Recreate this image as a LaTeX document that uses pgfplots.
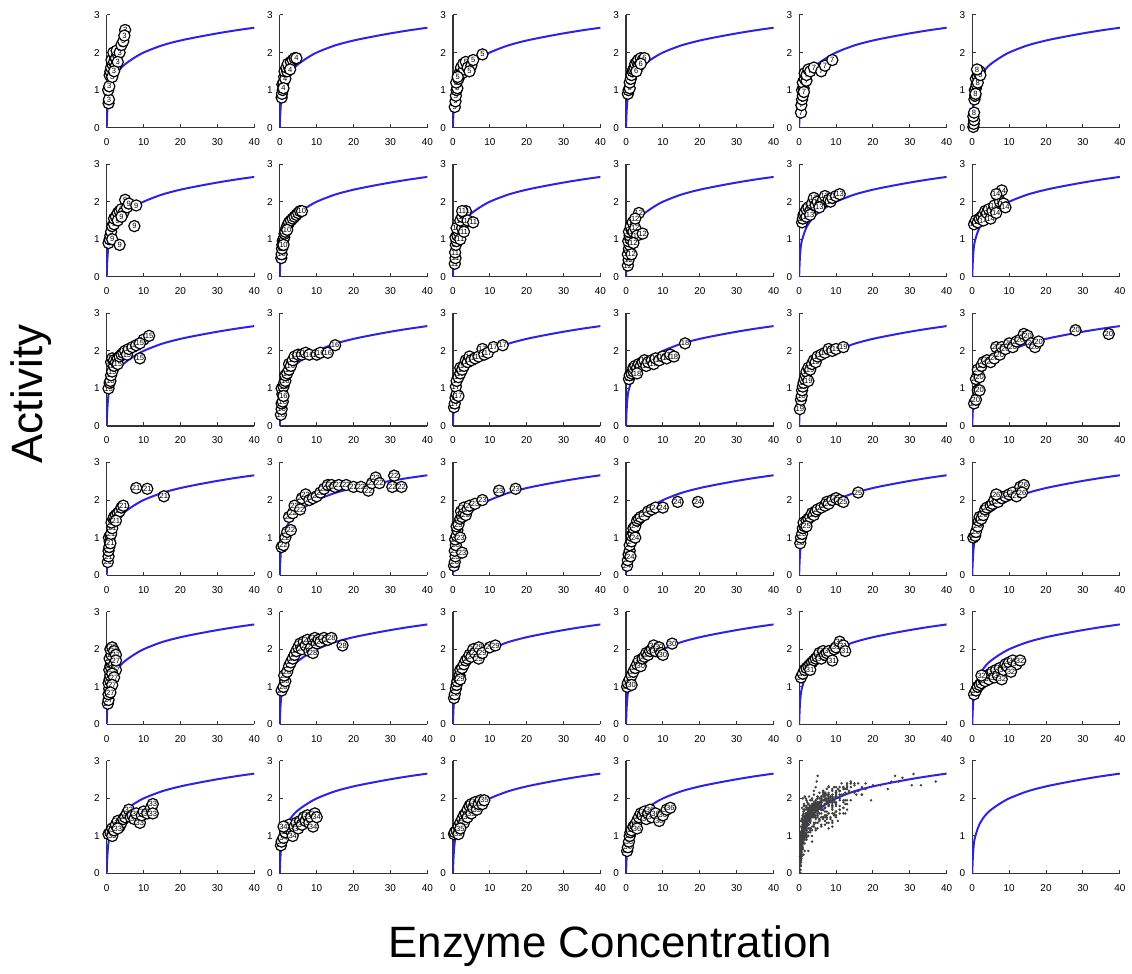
\documentclass[border=0pt]{standalone}
\usepackage{fontspec}
\setmainfont{Liberation Sans}
\usepackage{pgfplots}
\usepackage{pgfplotstable}
\pgfplotsset{compat=1.18}

\definecolor{fitblue}{RGB}{45,35,230}

% fitted curve, shared by all panels
\pgfplotstableread[row sep=\\]{x y\\ 0 0\\ 0.15 0.4\\ 0.35 0.7\\ 0.6 0.9\\ 1 1.05\\ 1.5 1.2\\ 2 1.32\\ 3 1.48\\ 4 1.6\\ 5 1.69\\ 7 1.83\\ 10 2.0\\ 15 2.19\\ 20 2.32\\ 25 2.42\\ 30 2.51\\ 35 2.59\\ 40 2.66\\}\fitcurve

% one table per sample
\pgfplotstableread[row sep=\\]{x y\\ 0.5 0.65\\ 0.6 0.75\\ 0.4 1.0\\ 0.7 1.1\\ 0.8 1.4\\ 1.0 1.5\\ 1.2 1.6\\ 1.5 1.7\\ 1.3 1.8\\ 2 1.75\\ 2.2 1.9\\ 1.8 2.0\\ 2.5 1.85\\ 3 1.95\\ 2.7 2.05\\ 3.5 2.0\\ 2.5 1.65\\ 3 1.75\\ 4 2.2\\ 4.5 2.3\\ 5 2.6\\ 4.8 2.45\\ 1.5 1.35\\ 2 1.5\\}\datIII
\pgfplotstableread[row sep=\\]{x y\\ 0.5 0.8\\ 0.6 0.9\\ 0.8 1.0\\ 0.7 1.15\\ 1 1.2\\ 1.2 1.35\\ 1.5 1.3\\ 1.3 1.5\\ 2 1.5\\ 1.8 1.6\\ 2.5 1.6\\ 2.2 1.7\\ 3 1.75\\ 3.5 1.8\\ 4 1.85\\ 4.5 1.85\\ 2.8 1.55\\ 1 1.05\\}\datIV
\pgfplotstableread[row sep=\\]{x y\\ 0.5 0.55\\ 0.7 0.7\\ 0.8 0.85\\ 1 1.0\\ 1.2 1.05\\ 0.9 1.2\\ 1.5 1.3\\ 1.8 1.4\\ 2 1.5\\ 2.2 1.6\\ 2.5 1.45\\ 3 1.55\\ 2.8 1.7\\ 3.5 1.75\\ 4 1.6\\ 5 1.65\\ 5.5 1.8\\ 4.5 1.5\\ 8 1.95\\ 1.3 1.35\\}\datV
\pgfplotstableread[row sep=\\]{x y\\ 0.5 0.9\\ 0.7 1.0\\ 1 1.05\\ 1 1.2\\ 1.3 1.3\\ 1.5 1.4\\ 1.8 1.5\\ 2 1.55\\ 2.3 1.6\\ 2.5 1.7\\ 3 1.75\\ 3.3 1.8\\ 4 1.85\\ 4.5 1.8\\ 5 1.85\\ 3.5 1.65\\ 2.8 1.5\\ 4 1.7\\}\datVI
\pgfplotstableread[row sep=\\]{x y\\ 0.5 0.4\\ 0.6 0.6\\ 0.8 0.75\\ 1 0.85\\ 0.8 1.0\\ 1.2 1.05\\ 1 1.2\\ 1.5 1.3\\ 2 1.25\\ 1.5 1.45\\ 2 1.4\\ 2.5 1.55\\ 3 1.5\\ 4 1.6\\ 6 1.5\\ 7 1.65\\ 9 1.8\\ 1.3 0.95\\}\datVII
\pgfplotstableread[row sep=\\]{x y\\ 0.3 0.02\\ 0.4 0.1\\ 0.5 0.2\\ 0.3 0.3\\ 0.5 0.4\\ 0.6 0.75\\ 0.8 0.85\\ 0.7 1.0\\ 1 1.05\\ 1.2 1.15\\ 1 1.3\\ 1.5 1.35\\ 1.8 1.45\\ 2 1.5\\ 1.5 1.2\\ 0.9 0.9\\ 2.2 1.4\\ 1.3 1.55\\}\datVIII
\pgfplotstableread[row sep=\\]{x y\\ 0.5 0.9\\ 0.8 1.0\\ 1 1.1\\ 1.2 1.2\\ 1.5 1.0\\ 1.5 1.35\\ 2 1.4\\ 2 1.55\\ 2.5 1.6\\ 3 1.7\\ 3 1.5\\ 3.5 1.75\\ 4 1.8\\ 4.5 1.7\\ 5 2.05\\ 5.5 1.85\\ 6 1.95\\ 8 1.9\\ 7.5 1.35\\ 3.5 0.85\\ 4 1.6\\}\datIX
\pgfplotstableread[row sep=\\]{x y\\ 0.4 0.5\\ 0.5 0.6\\ 0.6 0.75\\ 0.7 0.85\\ 0.8 0.95\\ 1 1.0\\ 1.2 1.05\\ 1.3 1.15\\ 1.5 1.2\\ 1.8 1.3\\ 2 1.35\\ 2.3 1.4\\ 2.5 1.45\\ 3 1.5\\ 3.5 1.55\\ 4 1.6\\ 4.5 1.65\\ 5 1.7\\ 5.5 1.75\\ 6 1.75\\ 1 0.85\\ 2 1.25\\}\datX
\pgfplotstableread[row sep=\\]{x y\\ 0.5 0.35\\ 0.7 0.5\\ 0.6 0.65\\ 0.8 0.85\\ 1 0.95\\ 0.7 1.05\\ 1.2 1.1\\ 1.5 1.2\\ 1 1.3\\ 2 1.0\\ 2.5 1.3\\ 3 1.45\\ 2 1.5\\ 2.5 1.6\\ 3 1.7\\ 3.5 1.75\\ 2.5 1.75\\ 4 1.5\\ 5.5 1.45\\ 3 1.2\\}\datXI
\pgfplotstableread[row sep=\\]{x y\\ 0.5 0.3\\ 0.7 0.45\\ 0.5 0.6\\ 0.8 0.75\\ 1 0.85\\ 0.6 0.95\\ 1.2 1.0\\ 1 1.1\\ 0.8 1.2\\ 1.5 1.25\\ 1.3 1.35\\ 2 1.2\\ 1.8 1.45\\ 2.5 1.3\\ 3 1.1\\ 2 0.9\\ 1.5 0.6\\ 3.5 1.7\\ 2.5 1.55\\ 4.5 1.15\\}\datXII
\pgfplotstableread[row sep=\\]{x y\\ 0.8 1.45\\ 1 1.55\\ 1.2 1.65\\ 1.5 1.7\\ 2 1.6\\ 2 1.8\\ 2.5 1.85\\ 3 1.75\\ 3.5 1.95\\ 4 2.1\\ 4.5 1.9\\ 5 2.0\\ 6 1.95\\ 6.5 2.05\\ 7 2.15\\ 8 2.05\\ 8.5 2.0\\ 9 2.1\\ 10 2.15\\ 11 2.2\\ 5.5 1.85\\ 3 1.65\\}\datXIII
\pgfplotstableread[row sep=\\]{x y\\ 0.5 1.4\\ 1 1.5\\ 1.5 1.45\\ 2 1.55\\ 2.5 1.6\\ 3 1.65\\ 3 1.5\\ 3.5 1.75\\ 4 1.7\\ 4.5 1.8\\ 5 1.55\\ 5.5 1.75\\ 6 1.9\\ 6.5 1.7\\ 7 2.15\\ 7.5 2.0\\ 8 2.3\\ 8.5 1.95\\ 9 1.85\\ 6.5 2.2\\}\datXIV
\pgfplotstableread[row sep=\\]{x y\\ 0.5 1.0\\ 0.8 1.15\\ 1 1.2\\ 1.2 1.35\\ 1.5 1.45\\ 1.2 1.7\\ 1.5 1.8\\ 2 1.6\\ 2 1.75\\ 2.5 1.7\\ 3 1.8\\ 3 1.65\\ 3.5 1.85\\ 4 1.9\\ 4.5 1.95\\ 5 2.0\\ 5.5 1.9\\ 6 2.05\\ 7 2.1\\ 8 2.15\\ 9 1.8\\ 10 2.3\\ 11.5 2.4\\ 9 2.2\\}\datXV
\pgfplotstableread[row sep=\\]{x y\\ 0.3 0.3\\ 0.5 0.45\\ 0.5 0.6\\ 0.8 0.65\\ 0.7 0.85\\ 0.5 1.0\\ 1 1.05\\ 1.2 1.15\\ 1.5 1.2\\ 1.5 1.35\\ 2 1.4\\ 2.5 1.5\\ 2.5 1.65\\ 3 1.6\\ 3.5 1.75\\ 4 1.85\\ 5 1.9\\ 6 1.9\\ 7 1.95\\ 8 1.9\\ 10 1.9\\ 11 1.95\\ 13 1.95\\ 15 2.15\\ 1 0.8\\}\datXVI
\pgfplotstableread[row sep=\\]{x y\\ 0.3 0.5\\ 0.5 0.6\\ 0.7 0.75\\ 1 0.85\\ 0.8 1.05\\ 1 1.2\\ 1.5 1.3\\ 2 1.4\\ 2 1.55\\ 2.5 1.5\\ 3 1.6\\ 3.5 1.75\\ 4 1.7\\ 4.5 1.85\\ 5 1.75\\ 6 1.8\\ 7 1.85\\ 8 2.05\\ 8.5 1.9\\ 9.5 1.95\\ 11 2.1\\ 13.5 2.15\\ 1.5 0.8\\}\datXVII
\pgfplotstableread[row sep=\\]{x y\\ 0.8 1.25\\ 1 1.35\\ 1.5 1.4\\ 2 1.45\\ 2 1.55\\ 2.5 1.6\\ 3 1.55\\ 3.5 1.65\\ 4 1.6\\ 4.5 1.7\\ 5 1.75\\ 5.5 1.6\\ 6 1.7\\ 7 1.75\\ 7.5 1.65\\ 8 1.8\\ 9 1.75\\ 10 1.85\\ 11 1.8\\ 12 1.9\\ 13 1.85\\ 16 2.2\\ 3 1.4\\}\datXVIII
\pgfplotstableread[row sep=\\]{x y\\ 0.2 0.45\\ 0.5 0.7\\ 0.7 0.8\\ 0.8 0.95\\ 1 1.05\\ 1.2 1.15\\ 1.5 1.25\\ 1.8 1.35\\ 2 1.45\\ 2.5 1.55\\ 3 1.5\\ 3.5 1.65\\ 4 1.75\\ 4.5 1.7\\ 5 1.85\\ 6 1.9\\ 7 1.95\\ 8 2.05\\ 9 2.0\\ 10 2.05\\ 12 2.1\\ 2.5 1.2\\}\datXIX
\pgfplotstableread[row sep=\\]{x y\\ 0.5 0.6\\ 1 0.7\\ 1.5 0.95\\ 2 0.95\\ 1 1.25\\ 2 1.3\\ 1.5 1.5\\ 2.5 1.6\\ 3 1.7\\ 4 1.75\\ 5 1.7\\ 6 1.8\\ 6.5 2.1\\ 7.5 1.9\\ 8 2.1\\ 9 2.05\\ 10 2.2\\ 11 2.1\\ 12 2.25\\ 13 2.3\\ 14 2.45\\ 15 2.4\\ 16 2.2\\ 17 2.1\\ 18 2.25\\ 28 2.55\\ 37 2.45\\}\datXX
\pgfplotstableread[row sep=\\]{x y\\ 0.3 0.35\\ 0.5 0.5\\ 0.5 0.65\\ 0.7 0.75\\ 0.8 0.9\\ 0.6 1.0\\ 1 1.05\\ 1 0.85\\ 1.2 1.1\\ 1.5 1.25\\ 1.3 1.4\\ 1.8 1.5\\ 2 1.55\\ 2.5 1.6\\ 3 1.65\\ 3.5 1.7\\ 4 1.8\\ 4.5 1.85\\ 2.5 1.45\\ 8 2.32\\ 11 2.3\\ 15.5 2.1\\}\datXXI
\pgfplotstableread[row sep=\\]{x y\\ 0.5 0.75\\ 1 0.8\\ 1.5 1.0\\ 2 1.15\\ 3 1.2\\ 2.5 1.55\\ 3.5 1.65\\ 4 1.85\\ 5.5 1.75\\ 6 2.05\\ 7 2.15\\ 8 2.0\\ 9 2.05\\ 10 2.1\\ 11 2.2\\ 12 2.3\\ 13 2.4\\ 14 2.4\\ 15 2.35\\ 16 2.4\\ 18 2.4\\ 20 2.35\\ 22 2.35\\ 24 2.25\\ 25 2.45\\ 26 2.6\\ 27 2.45\\ 31 2.65\\ 30.5 2.35\\ 33 2.35\\}\datXXII
\pgfplotstableread[row sep=\\]{x y\\ 0.3 0.25\\ 0.5 0.35\\ 0.7 0.5\\ 0.5 0.65\\ 0.8 0.8\\ 0.6 0.95\\ 1 1.05\\ 1.2 1.2\\ 1 1.3\\ 1.5 1.35\\ 2 1.5\\ 2.5 1.55\\ 2.2 1.7\\ 3 1.65\\ 3.5 1.6\\ 3 1.8\\ 4 1.75\\ 4.5 1.85\\ 6 1.9\\ 8 2.0\\ 12.5 2.25\\ 17 2.3\\ 2.5 0.6\\ 2 1.0\\}\datXXIII
\pgfplotstableread[row sep=\\]{x y\\ 0.3 0.25\\ 0.5 0.4\\ 0.7 0.55\\ 1 0.65\\ 1 0.8\\ 1.5 0.9\\ 1.5 1.05\\ 2 1.1\\ 2 1.25\\ 2.5 1.3\\ 3 1.45\\ 3.5 1.5\\ 4 1.55\\ 5 1.6\\ 6 1.7\\ 7 1.75\\ 8 1.8\\ 10 1.8\\ 14 1.95\\ 19.5 1.95\\ 2.5 1.0\\ 1.2 0.5\\}\datXXIV
\pgfplotstableread[row sep=\\]{x y\\ 0.3 0.85\\ 0.5 1.0\\ 0.8 1.1\\ 1 1.25\\ 1.5 1.3\\ 1.2 1.4\\ 2 1.45\\ 2.5 1.5\\ 3 1.55\\ 3.5 1.65\\ 4 1.6\\ 4.5 1.7\\ 5 1.75\\ 6 1.8\\ 7 1.85\\ 7.5 1.95\\ 8 1.9\\ 9 2.0\\ 10 2.05\\ 11 2.0\\ 12 1.95\\ 16 2.2\\ 2 1.3\\}\datXXV
\pgfplotstableread[row sep=\\]{x y\\ 0.3 1.0\\ 0.8 1.05\\ 1 1.15\\ 1.5 1.3\\ 1.8 1.45\\ 2 1.55\\ 2.5 1.5\\ 3 1.6\\ 3.5 1.75\\ 4 1.8\\ 5 1.85\\ 5.5 1.9\\ 6 2.0\\ 7 1.95\\ 7.5 2.1\\ 8 2.05\\ 9 2.1\\ 10 2.15\\ 11 2.2\\ 12 2.1\\ 13 2.35\\ 14 2.4\\ 13.5 2.2\\ 6.5 2.15\\}\datXXVI
\pgfplotstableread[row sep=\\]{x y\\ 0.3 0.55\\ 0.5 0.65\\ 0.5 0.8\\ 0.7 0.95\\ 0.5 1.1\\ 0.8 1.2\\ 1 1.3\\ 0.7 1.45\\ 1 1.55\\ 1.2 1.65\\ 0.8 1.75\\ 1.3 1.85\\ 1 2.0\\ 1.5 2.05\\ 2 1.95\\ 2.5 1.85\\ 2 1.6\\ 2.5 1.45\\ 1.5 1.35\\ 2 1.25\\ 1.5 1.05\\ 1 0.85\\ 2.5 1.7\\}\datXXVII
\pgfplotstableread[row sep=\\]{x y\\ 0.5 0.9\\ 1 1.0\\ 1.5 1.15\\ 1.2 1.3\\ 2 1.4\\ 2.5 1.55\\ 3 1.65\\ 3.5 1.75\\ 4 1.85\\ 4.5 1.95\\ 5 2.05\\ 5.5 2.15\\ 6 2.0\\ 6.5 2.2\\ 7 2.1\\ 7.5 2.25\\ 8 1.95\\ 8.5 2.05\\ 9 2.25\\ 9.5 2.3\\ 10 2.15\\ 10.5 2.25\\ 11 2.2\\ 12 2.3\\ 13 2.25\\ 14 2.3\\ 17 2.1\\ 9 1.9\\}\datXXVIII
\pgfplotstableread[row sep=\\]{x y\\ 0.3 0.7\\ 0.5 0.8\\ 0.8 0.95\\ 1 1.05\\ 1.2 1.15\\ 1.5 1.25\\ 1.8 1.3\\ 2 1.45\\ 2.5 1.5\\ 3 1.6\\ 3.5 1.7\\ 4 1.75\\ 4.5 1.85\\ 5 1.8\\ 5.5 2.0\\ 6 1.9\\ 7 2.05\\ 7 1.75\\ 8 1.9\\ 10 2.05\\ 11.5 2.1\\ 2 1.2\\}\datXXIX
\pgfplotstableread[row sep=\\]{x y\\ 0.3 1.0\\ 0.5 1.1\\ 1 1.2\\ 1.5 1.3\\ 2 1.4\\ 2.5 1.5\\ 3 1.6\\ 3.5 1.7\\ 4 1.55\\ 4.5 1.75\\ 5 1.8\\ 5.5 1.9\\ 6 1.85\\ 6.5 1.95\\ 7 2.0\\ 7.5 2.1\\ 8 1.95\\ 9 2.05\\ 9.5 1.9\\ 10 1.85\\ 12.5 2.15\\ 1.5 1.05\\}\datXXX
\pgfplotstableread[row sep=\\]{x y\\ 0.5 1.25\\ 1 1.35\\ 1.5 1.45\\ 2 1.5\\ 2.5 1.55\\ 3 1.6\\ 3.5 1.65\\ 4 1.7\\ 4.5 1.75\\ 5 1.8\\ 5.5 1.9\\ 6 1.75\\ 6.5 1.95\\ 7 1.85\\ 7.5 1.9\\ 8 1.95\\ 9 1.7\\ 9.5 2.0\\ 10 2.05\\ 11 2.2\\ 12 2.1\\ 12.5 1.95\\ 3 1.45\\}\datXXXI
\pgfplotstableread[row sep=\\]{x y\\ 0.5 0.8\\ 1 0.9\\ 1.5 1.0\\ 2 1.05\\ 2.5 1.1\\ 3 1.2\\ 3.5 1.15\\ 4 1.3\\ 4.5 1.2\\ 5 1.35\\ 5.5 1.4\\ 6 1.25\\ 6.5 1.45\\ 7 1.3\\ 7.5 1.5\\ 8 1.2\\ 8.5 1.45\\ 9 1.6\\ 9.5 1.55\\ 10 1.65\\ 11 1.7\\ 12 1.6\\ 13 1.7\\ 10.5 1.4\\ 2.5 1.3\\}\datXXXII
\pgfplotstableread[row sep=\\]{x y\\ 0.5 1.05\\ 1 1.1\\ 1.5 1.0\\ 1.5 1.2\\ 2 1.15\\ 2.5 1.3\\ 3 1.4\\ 3.5 1.25\\ 4 1.35\\ 4.5 1.45\\ 5 1.5\\ 5.5 1.6\\ 6 1.7\\ 6.5 1.5\\ 7 1.55\\ 7.5 1.45\\ 8 1.6\\ 9 1.35\\ 9.5 1.55\\ 10 1.65\\ 11 1.6\\ 12 1.75\\ 12.5 1.85\\ 12.5 1.6\\ 3 1.2\\}\datXXXIII
\pgfplotstableread[row sep=\\]{x y\\ 0.3 0.75\\ 0.5 0.85\\ 1 0.95\\ 1.5 1.1\\ 2 1.2\\ 2.5 1.3\\ 3 1.15\\ 3.5 1.0\\ 4 1.25\\ 4.5 1.35\\ 5 1.2\\ 5.5 1.4\\ 6 1.3\\ 6.5 1.5\\ 7 1.4\\ 7.5 1.55\\ 8 1.35\\ 8.5 1.5\\ 9 1.25\\ 9.5 1.6\\ 10 1.5\\ 1 1.25\\}\datXXXIV
\pgfplotstableread[row sep=\\]{x y\\ 0.3 1.05\\ 0.5 1.1\\ 1 1.15\\ 1.5 1.25\\ 1.5 1.05\\ 2 1.35\\ 2.5 1.45\\ 3 1.55\\ 3 1.35\\ 3.5 1.6\\ 4 1.7\\ 4 1.5\\ 4.5 1.8\\ 5 1.85\\ 5 1.6\\ 5.5 1.75\\ 6 1.9\\ 6.5 1.7\\ 7 1.85\\ 7.5 1.95\\ 8 1.85\\ 8.5 1.95\\ 2 1.2\\}\datXXXV
\pgfplotstableread[row sep=\\]{x y\\ 0.3 0.6\\ 0.5 0.7\\ 0.8 0.85\\ 1 1.0\\ 1.2 1.1\\ 1.5 1.15\\ 2 1.25\\ 2.5 1.3\\ 3 1.4\\ 3.5 1.5\\ 4 1.6\\ 4.5 1.55\\ 5 1.65\\ 5.5 1.45\\ 6 1.6\\ 6.5 1.7\\ 7 1.5\\ 8 1.6\\ 9 1.4\\ 10 1.55\\ 11 1.7\\ 12 1.75\\ 3 1.2\\}\datXXXVI

\pgfplotsset{
  panel/.style={
    scale only axis, width=74pt, height=56.5pt,
    anchor=south west,
    xmin=0, xmax=40, ymin=0, ymax=3,
    axis x line*=bottom, axis y line*=left,
    axis line style={black!80, line width=0.6pt, -},
    xtick={0,10,20,30,40}, ytick={0,1,2,3},
    tick align=inside, major tick length=1.8pt,
    tick style={black!80, line width=0.5pt},
    tick label style={font=\fontsize{5}{6}\selectfont},
    /pgf/number format/assume math mode=true,
    xticklabel style={yshift=-2pt},
  },
  fit/.style={fitblue, line width=1pt, smooth, no markers},
  circ/.style={only marks, mark=*, mark size=2.8pt,
    mark options={fill=white, draw=black, line width=0.6pt},
    nodes near coords align={center},
    every node near coord/.append style={font=\fontsize{3.8}{4}\selectfont, inner sep=0pt, anchor=center}},
  dot/.style={only marks, mark=*, mark size=0.4pt, color=black!75, forget plot},
}

\newcommand\panel[4]{%
  \begin{axis}[panel, at={(#1*86.8pt,-#2*74.8pt)}]
    \addplot[fit] table {\fitcurve};
    \addplot[circ, nodes near coords={#3}] table {#4};
  \end{axis}}

\begin{document}
\begin{tikzpicture}
\panel{0}{0}{3}{\datIII}
\panel{1}{0}{4}{\datIV}
\panel{2}{0}{5}{\datV}
\panel{3}{0}{6}{\datVI}
\panel{4}{0}{7}{\datVII}
\panel{5}{0}{8}{\datVIII}
\panel{0}{1}{9}{\datIX}
\panel{1}{1}{10}{\datX}
\panel{2}{1}{11}{\datXI}
\panel{3}{1}{12}{\datXII}
\panel{4}{1}{13}{\datXIII}
\panel{5}{1}{14}{\datXIV}
\panel{0}{2}{15}{\datXV}
\panel{1}{2}{16}{\datXVI}
\panel{2}{2}{17}{\datXVII}
\panel{3}{2}{18}{\datXVIII}
\panel{4}{2}{19}{\datXIX}
\panel{5}{2}{20}{\datXX}
\panel{0}{3}{21}{\datXXI}
\panel{1}{3}{22}{\datXXII}
\panel{2}{3}{23}{\datXXIII}
\panel{3}{3}{24}{\datXXIV}
\panel{4}{3}{25}{\datXXV}
\panel{5}{3}{26}{\datXXVI}
\panel{0}{4}{27}{\datXXVII}
\panel{1}{4}{28}{\datXXVIII}
\panel{2}{4}{29}{\datXXIX}
\panel{3}{4}{30}{\datXXX}
\panel{4}{4}{31}{\datXXXI}
\panel{5}{4}{32}{\datXXXII}
\panel{0}{5}{33}{\datXXXIII}
\panel{1}{5}{34}{\datXXXIV}
\panel{2}{5}{35}{\datXXXV}
\panel{3}{5}{36}{\datXXXVI}

% all samples pooled
\begin{axis}[panel, at={(4*86.8pt,-5*74.8pt)}]
  \addplot[dot] table {\datIII};   \addplot[dot] table {\datIV};    \addplot[dot] table {\datV};
  \addplot[dot] table {\datVI};    \addplot[dot] table {\datVII};   \addplot[dot] table {\datVIII};
  \addplot[dot] table {\datIX};    \addplot[dot] table {\datX};     \addplot[dot] table {\datXI};
  \addplot[dot] table {\datXII};   \addplot[dot] table {\datXIII};  \addplot[dot] table {\datXIV};
  \addplot[dot] table {\datXV};    \addplot[dot] table {\datXVI};   \addplot[dot] table {\datXVII};
  \addplot[dot] table {\datXVIII}; \addplot[dot] table {\datXIX};   \addplot[dot] table {\datXX};
  \addplot[dot] table {\datXXI};   \addplot[dot] table {\datXXII};  \addplot[dot] table {\datXXIII};
  \addplot[dot] table {\datXXIV};  \addplot[dot] table {\datXXV};   \addplot[dot] table {\datXXVI};
  \addplot[dot] table {\datXXVII}; \addplot[dot] table {\datXXVIII};\addplot[dot] table {\datXXIX};
  \addplot[dot] table {\datXXX};   \addplot[dot] table {\datXXXI};  \addplot[dot] table {\datXXXII};
  \addplot[dot] table {\datXXXIII};\addplot[dot] table {\datXXXIV}; \addplot[dot] table {\datXXXV};
  \addplot[dot] table {\datXXXVI};
  \addplot[fit] table {\fitcurve};
\end{axis}

% curve alone
\begin{axis}[panel, at={(5*86.8pt,-5*74.8pt)}]
  \addplot[fit] table {\fitcurve};
\end{axis}

\node[rotate=90, anchor=base, font=\fontsize{22}{26}\selectfont] at (-32pt,-133.5pt) {Activity};
\node[anchor=base, font=\fontsize{22}{26}\selectfont] at (252.5pt,-416pt) {Enzyme Concentration};
\path (-53.5pt,64pt) rectangle (512.5pt,-422.5pt);
\end{tikzpicture}
\end{document}
